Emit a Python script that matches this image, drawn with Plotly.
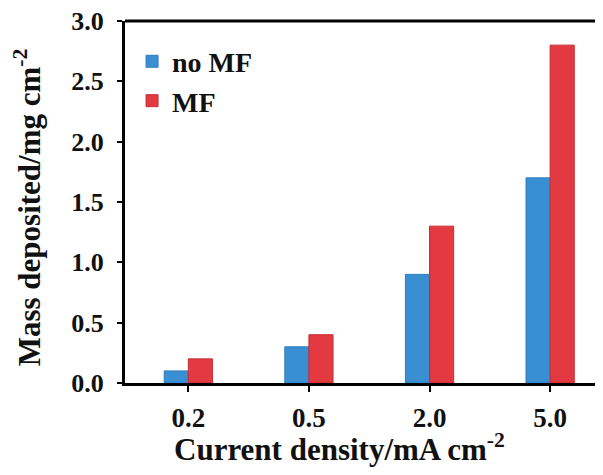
import plotly.graph_objects as go

categories = ["0.2", "0.5", "2.0", "5.0"]
no_mf = [0.1, 0.3, 0.9, 1.7]
mf = [0.2, 0.4, 1.3, 2.8]
y_ticks = [0.0, 0.5, 1.0, 1.5, 2.0, 2.5, 3.0]
x_title = "<b>Current density/mA cm<sup>-2</sup></b>"
y_title = "<b>Mass deposited/mg cm<sup>-2</sup></b>"

font_family = "Liberation Serif"

fig = go.Figure()
fig.add_trace(go.Bar(x=categories, y=no_mf, name="<b>no MF</b>",
                     marker=dict(color="#3a8fd2", line=dict(color="#2f7dbd", width=1))))
fig.add_trace(go.Bar(x=categories, y=mf, name="<b>MF</b>",
                     marker=dict(color="#e23a40", line=dict(color="#c42e34", width=1))))

fig.update_layout(
    width=587, height=459,
    margin=dict(l=117, r=0, t=13, b=84),
    paper_bgcolor="white", plot_bgcolor="white",
    barmode="group", bargap=0.6, bargroupgap=0,
    font=dict(family=font_family, color="#111", size=27),
    showlegend=True,
    legend=dict(x=0.015, y=0.957, xanchor="left", yanchor="top",
                font=dict(family=font_family, size=28, color="#111"),
                bgcolor="rgba(0,0,0,0)", itemwidth=30),
)
fig.update_xaxes(
    range=[-0.525, 3.372], showline=True, linecolor="black", linewidth=3,
    mirror=False, ticks="outside", ticklen=6, tickwidth=2, tickcolor="black",
    tickvals=categories, ticktext=[f"<b>{c}</b>" for c in categories],
    tickfont=dict(family=font_family, size=27, color="#111"),
    ticklabelstandoff=3, automargin=False, showgrid=False,
)
fig.update_yaxes(
    range=[0, 3.0], tickvals=y_ticks, ticktext=[f"<b>{v:.1f}</b>" for v in y_ticks],
    showline=True, linecolor="black", linewidth=3, mirror=False,
    ticks="outside", ticklen=5, tickwidth=2, tickcolor="black",
    tickfont=dict(family=font_family, size=26, color="#111"),
    ticklabelstandoff=8, ticklabeloverflow="allow", automargin=False,
    showgrid=False, zeroline=False,
)
# axis titles
fig.add_annotation(text=x_title, xref="paper", yref="paper", x=0.457, y=-0.178,
                   xanchor="center", yanchor="middle", showarrow=False,
                   font=dict(family=font_family, size=31, color="#111"))
fig.add_annotation(text=y_title, xref="paper", yref="paper", x=-0.208, y=0.486,
                   xanchor="center", yanchor="middle", showarrow=False, textangle=-90,
                   font=dict(family=font_family, size=31, color="#111"))
# top border line
fig.add_shape(type="line", xref="paper", yref="paper", x0=0, x1=1, y0=1, y1=1,
              line=dict(color="black", width=3))

fig.write_html("out.html")
